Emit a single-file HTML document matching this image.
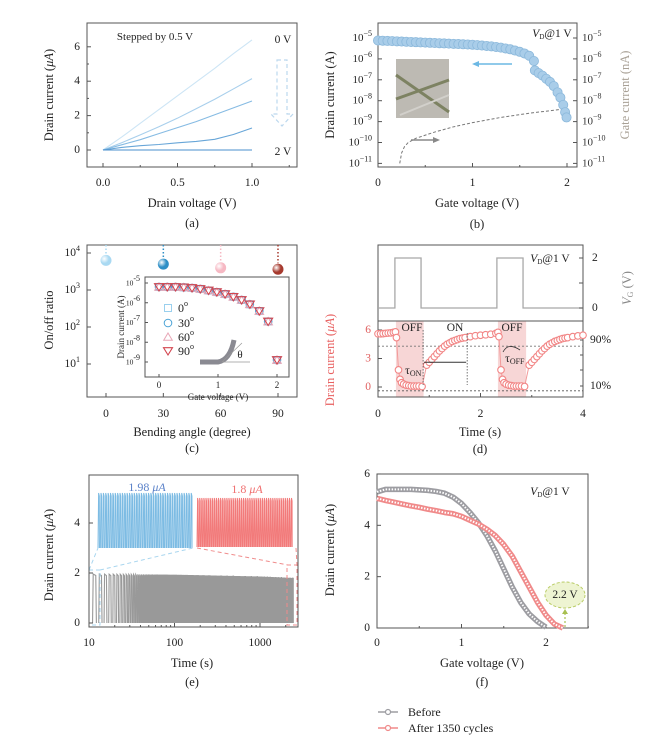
<!DOCTYPE html>
<html><head><meta charset="utf-8"><style>
html,body{margin:0;padding:0;background:#fff;}
svg{display:block;font-family:"Liberation Serif",serif;}
</style></head><body>
<svg id="fig" width="656" height="748" viewBox="0 0 656 748" xmlns="http://www.w3.org/2000/svg"></svg>
<script>
// ---------- DATA ----------
// (a) output curves, Vd samples
const aVd = [0, 0.125, 0.25, 0.375, 0.5, 0.625, 0.75, 0.875, 1.0];
const aGateLabels = ["0 V", "0.5 V", "1 V", "1.5 V", "2 V"];
const aI0 = [0, 0.75, 1.55, 2.35, 3.15, 3.95, 4.75, 5.6, 6.4];
const aI05 = [0, 0.42, 0.88, 1.35, 1.85, 2.4, 2.95, 3.55, 4.15];
const aI1 = [0, 0.3, 0.6, 0.95, 1.3, 1.65, 2.05, 2.45, 2.85];
const aI15 = [0, 0.15, 0.25, 0.32, 0.42, 0.5, 0.62, 0.9, 1.28];
const aI2 = [0, 0, 0, 0, 0, 0, 0, 0, 0];
// (b) transfer curve (log10 of A)
const bVg = [0,0.05,0.1,0.15,0.2,0.25,0.3,0.35,0.4,0.45,0.5,0.55,0.6,0.65,0.7,0.75,0.8,0.85,0.9,0.95,1.0,1.05,1.1,1.15,1.2,1.25,1.3,1.35,1.4,1.45,1.5,1.55,1.6,1.65,1.66,1.7,1.74,1.78,1.82,1.86,1.9,1.93,1.96,1.98,1.995];
const bLogId = [-5.12,-5.13,-5.14,-5.15,-5.16,-5.17,-5.18,-5.19,-5.2,-5.21,-5.22,-5.23,-5.24,-5.25,-5.26,-5.27,-5.28,-5.29,-5.3,-5.31,-5.32,-5.34,-5.36,-5.38,-5.4,-5.43,-5.46,-5.5,-5.54,-5.6,-5.66,-5.74,-5.85,-6.1,-6.55,-6.68,-6.8,-6.95,-7.1,-7.3,-7.6,-7.85,-8.2,-8.55,-8.8];
const bGateVg = [0.23,0.25,0.28,0.32,0.4,0.6,0.8,1.0,1.3,1.6,2.0];
const bLogIg = [-11,-10.5,-10.2,-10.0,-9.8,-9.5,-9.25,-9.05,-8.8,-8.6,-8.38];
const bTicks = [-5,-6,-7,-8,-9,-10,-11];
// (c) on/off ratio vs bending
const cAngles = [0, 30, 60, 90];
const cLogRatio = [3.8, 3.7, 3.6, 3.56];
const cColors = ["#a9d9f2", "#2e8fc6", "#f6b8c3", "#a63a2e"];
const ciVg = [0,0.14,0.28,0.42,0.56,0.7,0.84,0.98,1.12,1.26,1.4,1.54,1.7,1.85,2];
const ciLogId = [-5.2,-5.2,-5.2,-5.22,-5.25,-5.3,-5.38,-5.46,-5.56,-5.7,-5.86,-6.08,-6.42,-6.95,-8.9];
const ciLegend = ["0", "30", "60", "90"];
// (d) transient
const dVT = [0,0.33,0.33,0.84,0.84,2.32,2.32,2.83,2.83,4];
const dVV = [0,0,2,2,0,0,2,2,0,0];
const dT = [0,0.05,0.1,0.15,0.2,0.25,0.3,0.34,0.36,0.4,0.43,0.46,0.5,0.55,0.6,0.65,0.7,0.75,0.8,0.86,0.95,1.0,1.05,1.1,1.15,1.2,1.25,1.3,1.35,1.4,1.45,1.5,1.55,1.6,1.65,1.7,1.8,1.9,2.0,2.1,2.2,2.3,2.34,2.36,2.4,2.43,2.46,2.5,2.55,2.6,2.65,2.7,2.75,2.8,2.86,2.95,3.0,3.05,3.1,3.15,3.2,3.25,3.3,3.35,3.4,3.45,3.5,3.55,3.6,3.65,3.7,3.8,3.9,4.0];
const dI = [5.6,5.6,5.62,5.65,5.68,5.7,5.75,5.8,5.2,1.8,0.8,0.45,0.3,0.2,0.15,0.1,0.1,0.1,0.1,0.05,2.3,2.6,2.9,3.2,3.5,3.8,4.05,4.3,4.5,4.65,4.8,4.9,5.0,5.1,5.15,5.2,5.3,5.4,5.45,5.5,5.55,5.65,5.75,5.3,1.8,0.8,0.45,0.3,0.2,0.15,0.1,0.1,0.1,0.1,0.05,2.3,2.6,2.9,3.2,3.5,3.8,4.05,4.3,4.5,4.65,4.8,4.9,5.0,5.1,5.15,5.2,5.3,5.38,5.45];
const dOffWindows = [[0.35, 0.89], [2.34, 2.89]];
// (e) cycling
const eCycleStart = 11;
const ePeriod = 2;
const eEnd = 2450;
const ePeakT = [10, 100, 1000, 2500];
const ePeakI = [1.96, 1.93, 1.86, 1.8];
const eInsetBlue = [1.98, 40];
const eInsetRed = [1.8, 46];
// (f) transfer before/after
const fVgBefore = [0,0.1,0.2,0.3,0.4,0.5,0.6,0.7,0.8,0.9,1.0,1.1,1.2,1.3,1.4,1.5,1.6,1.7,1.8,1.9,2.0];
const fBefore = [5.3,5.4,5.4,5.4,5.4,5.38,5.36,5.32,5.25,5.1,4.85,4.5,4.1,3.6,3.0,2.3,1.6,1.0,0.55,0.25,0.03];
const fVgAfter = [0,0.1,0.2,0.3,0.4,0.5,0.6,0.7,0.8,0.9,1.0,1.1,1.2,1.3,1.4,1.5,1.6,1.7,1.8,1.9,2.0,2.1,2.2];
const fAfter = [5.05,4.97,4.9,4.83,4.76,4.7,4.63,4.57,4.5,4.45,4.35,4.2,4.05,3.85,3.6,3.25,2.8,2.2,1.6,1.0,0.5,0.15,0.0];

// ---------- HELPERS ----------
const NS = "http://www.w3.org/2000/svg";
const svg = document.getElementById("fig");
function E(tag, attrs, name, parent) {
  const el = document.createElementNS(NS, tag);
  for (const k in attrs) el.setAttribute(k, attrs[k]);
  
  
  (parent || svg).appendChild(el);
  return el;
}
function T(x, y, html, name, o) {
  o = o || {};
  const el = E("text", {x: x, y: y, "font-size": o.fs || 12, fill: o.fill || "#222", "text-anchor": o.anchor || "middle", "dominant-baseline": "central"}, name);
  if (o.rot) el.setAttribute("transform", "rotate(-90 " + x + " " + y + ")");
  if (o.italic) el.setAttribute("font-style", "italic");
  el.innerHTML = html;
  return el;
}
function pts(xs, ys, fx, fy) { return xs.map((v, i) => fx(v).toFixed(2) + "," + fy(ys[i]).toFixed(2)).join(" "); }
function box(x1, y1, x2, y2, name) { E("rect", {x: x1, y: y1, width: x2 - x1, height: y2 - y1, fill: "none", stroke: "#555", "stroke-width": 1}, name); }
function sup(b, e) { return b + '<tspan dy="-5" font-size="8">' + e + '</tspan>'; }
function tickX(x, y, len, name) { E("line", {x1: x, y1: y, x2: x, y2: y - len, stroke: "#555", "stroke-width": 1}, name); }
function tickY(x, y, len, name) { E("line", {x1: x, y1: y, x2: x + len, y2: y, stroke: "#555", "stroke-width": 1}, name); }

// ---------- PANEL A ----------
const xA = v => 103 + v * 149, yA = v => 150 - v * 17.2;
box(87, 23, 297, 167, "panel-a-plot-area");
[0, 2, 4, 6].forEach(v => { tickY(87, yA(v), 4, "a-y-tick"); T(80, yA(v), v, "a-y-tick-label", {anchor: "end", fs: 11.5}); });
[1, 3, 5].forEach(v => tickY(87, yA(v), 2, "a-y-minor-tick"));
[0, 0.5, 1].forEach(v => { tickX(xA(v), 167, 4, "a-x-tick"); T(xA(v), 183, v.toFixed(1), "a-x-tick-label", {fs: 11.5}); });
[0.25, 0.75, 1.25].forEach(v => tickX(xA(v), 167, 2, "a-x-minor-tick"));
const aCurves = [aI0, aI05, aI1, aI15, aI2];
const aCols = ["#cde5f5", "#a8cfec", "#86bbe3", "#68a6d8", "#4a8fcc"];
aCurves.forEach((c, i) => E("polyline", {points: pts(aVd, c, xA, yA), fill: "none", stroke: aCols[i], "stroke-width": 1.1, "stroke-linejoin": "round"}, "a-curve-vg-" + i));
T(155, 37, "Stepped by 0.5 V", "a-step-note", {fs: 11});
T(283, 40, aGateLabels[0], "a-label-0v", {fs: 11.5});
T(283, 152, aGateLabels[4], "a-label-2v", {fs: 11.5});
E("path", {d: "M277,60 H287 V114 H293 L282,126 L271,114 H277 Z", fill: "none", stroke: "#bcd8ee", "stroke-width": 1.2, "stroke-dasharray": "4,3"}, "a-down-arrow");
T(49, 95, "Drain current (<tspan font-style=\"italic\">μA</tspan>)", "a-y-axis-title", {rot: true, fs: 12.5});
T(192, 203, "Drain voltage (V)", "a-x-axis-title", {fs: 12.5});
T(192, 223, "(a)", "a-panel-label", {fs: 12.5});

// ---------- PANEL B ----------
const xB = v => 378 + v * 94.5, yB = l => 38 + (-5 - l) * 20.9;
box(378, 23, 577, 167, "panel-b-plot-area");
bTicks.forEach(l => {
  tickY(378, yB(l), 4, "b-left-tick"); tickY(577, yB(l), -4, "b-right-tick");
  T(372, yB(l), sup("10", "−" + (-l)), "b-left-tick-label", {anchor: "end", fs: 11});
  T(582, yB(l), sup("10", "−" + (-l)), "b-right-tick-label", {anchor: "start", fs: 11, fill: "#333"});
});
[0, 1, 2].forEach(v => { tickX(xB(v), 167, 4, "b-x-tick"); T(xB(v), 183, v, "b-x-tick-label", {fs: 11.5}); });
[0.5, 1.5].forEach(v => tickX(xB(v), 167, 2, "b-x-minor-tick"));
const bImg = E("g", {}, "b-inset-photo");
E("rect", {x: 396, y: 59, width: 53, height: 59, fill: "#bdbab3"}, "b-photo-bg", bImg);
E("line", {x1: 396, y1: 75, x2: 449, y2: 112, stroke: "#7d8262", "stroke-width": 3}, "b-fiber-1", bImg);
E("line", {x1: 396, y1: 99, x2: 449, y2: 80, stroke: "#7d8262", "stroke-width": 3}, "b-fiber-2", bImg);
E("line", {x1: 400, y1: 115, x2: 449, y2: 95, stroke: "#d2d0cb", "stroke-width": 2}, "b-fiber-shadow", bImg);
E("polyline", {points: pts(bGateVg, bLogIg, xB, yB), fill: "none", stroke: "#777", "stroke-width": 1, "stroke-dasharray": "3,2"}, "b-gate-current-line");
E("polyline", {points: pts(bVg, bLogId, xB, yB), fill: "none", stroke: "#555", "stroke-width": 0.8}, "b-drain-line");
bVg.forEach((v, i) => E("circle", {cx: xB(v), cy: yB(bLogId[i]), r: 4.6, fill: "#a9cde9", stroke: "#8bb8db", "stroke-width": 0.8}, "b-drain-point"));
E("line", {x1: 512, y1: 64, x2: 474, y2: 64, stroke: "#6cb8e4", "stroke-width": 1.5}, "b-blue-arrow");
E("path", {d: "M472,64 L479,61 L479,67 Z", fill: "#6cb8e4"}, "b-blue-arrowhead");
E("line", {x1: 411, y1: 140, x2: 437, y2: 140, stroke: "#888", "stroke-width": 1.5}, "b-gray-arrow");
E("path", {d: "M440,140 L433,137 L433,143 Z", fill: "#888"}, "b-gray-arrowhead");
T(552, 34, '<tspan font-style="italic">V</tspan><tspan font-size="7" dy="3">D</tspan><tspan dy="-3">@1 V</tspan>', "b-vd-note", {fs: 11.5});
T(330, 95, "Drain current (A)", "b-y-axis-title", {rot: true, fs: 12.5});
T(625, 95, "Gate current (nA)", "b-right-axis-title", {rot: true, fs: 12.5, fill: "#a8a095"});
T(477, 203, "Gate voltage (V)", "b-x-axis-title", {fs: 12.5});
T(477, 224, "(b)", "b-panel-label", {fs: 12.5});

// ---------- PANEL C ----------
const xC = a => 106 + a * 1.911, yC = l => 253 + (4 - l) * 37;
box(87, 245, 297, 397, "panel-c-plot-area");
[4, 3, 2, 1].forEach(l => { tickY(87, yC(l), 4, "c-y-tick"); T(80, yC(l), sup("10", l), "c-y-tick-label", {anchor: "end", fs: 11.5}); });
[0, 30, 60, 90].forEach(a => { tickX(xC(a), 397, 4, "c-x-tick"); T(xC(a), 414, a, "c-x-tick-label", {fs: 11.5}); });
const defs = E("defs", {}, "defs");
cAngles.forEach((a, i) => {
  const g = E("radialGradient", {id: "ball" + i, cx: "0.35", cy: "0.35", r: "0.7"}, "ball-gradient", defs);
  E("stop", {offset: "0", "stop-color": "#ffffff"}, "grad-stop", g);
  E("stop", {offset: "0.6", "stop-color": cColors[i]}, "grad-stop", g);
  E("stop", {offset: "1", "stop-color": cColors[i]}, "grad-stop", g);
  E("line", {x1: xC(a), y1: 245, x2: xC(a), y2: yC(cLogRatio[i]) - 6, stroke: cColors[i], "stroke-width": 1.5, "stroke-dasharray": "1.5,2"}, "c-drop-line");
  E("circle", {cx: xC(a), cy: yC(cLogRatio[i]), r: 5.5, fill: "url(#ball" + i + ")"}, "c-ratio-ball-" + a);
});
const xCi = v => 159 + v * 59, yCi = l => 283 + (-5 - l) * 19.75;
E("rect", {x: 145, y: 277, width: 144, height: 100, fill: "#fff", stroke: "#555", "stroke-width": 1}, "c-inset-plot-area");
[-5, -6, -7, -8, -9].forEach(l => { tickY(145, yCi(l), 3, "c-inset-y-tick"); T(140, yCi(l), sup("10", "-" + (-l)), "c-inset-y-tick-label", {anchor: "end", fs: 7.5}); });
[0, 1, 2].forEach(v => { tickX(xCi(v), 377, 3, "c-inset-x-tick"); T(xCi(v), 385, v, "c-inset-x-tick-label", {fs: 9}); });
T(121, 327, "Drain current (A)", "c-inset-y-title", {rot: true, fs: 9});
T(218, 397, "Gate voltage (V)", "c-inset-x-title", {fs: 9});
const ciStyles = [["#9ad0ee", "sq"], ["#4ca3d6", "ci"], ["#e8a6b6", "tu"], ["#d3454f", "td"]];
function marker(kind, x, y, col, name) {
  if (kind === "sq") E("rect", {x: x - 3.5, y: y - 3.5, width: 7, height: 7, fill: "none", stroke: col, "stroke-width": 1}, name);
  else if (kind === "ci") E("circle", {cx: x, cy: y, r: 3.8, fill: "none", stroke: col, "stroke-width": 1}, name);
  else if (kind === "tu") E("path", {d: `M${x},${y - 4} L${x + 4.3},${y + 3.3} L${x - 4.3},${y + 3.3} Z`, fill: "none", stroke: col, "stroke-width": 1}, name);
  else E("path", {d: `M${x},${y + 4} L${x + 4.5},${y - 3.3} L${x - 4.5},${y - 3.3} Z`, fill: "none", stroke: col, "stroke-width": 1.1}, name);
}
ciStyles.forEach((s, k) => ciVg.forEach((v, i) => marker(s[1], xCi(v), yCi(ciLogId[i]), s[0], "c-inset-point")));
ciLegend.forEach((lab, k) => {
  const y = [308, 323, 337, 351][k];
  marker(ciStyles[k][1], 168, y, ciStyles[k][0], "c-legend-marker");
  T(178, y, lab + '<tspan dy="-5" font-size="8">o</tspan>', "c-legend-label-" + lab, {anchor: "start", fs: 12});
});
E("path", {d: "M200,362 L218,362 Q230,360 234,340", fill: "none", stroke: "#8a8a92", "stroke-width": 5}, "c-bend-icon");
E("path", {d: "M222,362 L250,362 M222,362 L242,343", fill: "none", stroke: "#999", "stroke-width": 0.7}, "c-angle-lines");
T(240, 355, "θ", "c-theta-label", {fs: 11});
T(49, 320, "On/off ratio", "c-y-axis-title", {rot: true, fs: 12.5});
T(192, 432, "Bending angle (degree)", "c-x-axis-title", {fs: 12.5});
T(192, 448, "(c)", "c-panel-label", {fs: 12.5});

// ---------- PANEL D ----------
const xD = t => 378 + t * 51.25, yV = v => 308 - v * 25, yI = i => 387 - i * 9.5;
dOffWindows.forEach(w => E("rect", {x: xD(w[0]), y: 321, width: xD(w[1]) - xD(w[0]), height: 76, fill: "#f7d6d6"}, "d-off-shade"));
box(378, 245, 583, 321, "d-gate-plot-area");
box(378, 321, 583, 397, "d-current-plot-area");
E("polyline", {points: pts(dVT, dVV, xD, yV), fill: "none", stroke: "#a8a8a8", "stroke-width": 1.3}, "d-gate-pulse-line");
[0, 1, 2].forEach(v => { tickY(583, yV(v), -4, "d-vg-tick"); if (v !== 1) T(592, yV(v), v, "d-vg-tick-label", {anchor: "start", fs: 11.5}); });
[0, 3, 6].forEach(v => { tickY(378, yI(v), 4, "d-i-tick"); T(371, yI(v), v, "d-i-tick-label", {anchor: "end", fs: 11.5, fill: "#e06060"}); });
[0, 2, 4].forEach(v => { tickX(xD(v), 397, 4, "d-x-tick"); T(xD(v), 414, v, "d-x-tick-label", {fs: 11.5}); });
[1, 3].forEach(v => tickX(xD(v), 397, 2, "d-x-minor-tick"));
E("line", {x1: 378, y1: yI(4.3), x2: 583, y2: yI(4.3), stroke: "#777", "stroke-width": 0.9, "stroke-dasharray": "2,2"}, "d-90-percent-line");
E("line", {x1: 378, y1: yI(-0.4), x2: 583, y2: yI(-0.4), stroke: "#555", "stroke-width": 0.9, "stroke-dasharray": "2,2"}, "d-10-percent-line");
[340, 355, 370, 386].forEach(y => tickY(583, y, -3, "d-right-tick"));
T(590, 340, "90%", "d-90-label", {anchor: "start", fs: 11.5});
T(590, 386, "10%", "d-10-label", {anchor: "start", fs: 11.5});
E("polyline", {points: pts(dT, dI, xD, yI), fill: "none", stroke: "#f29a9a", "stroke-width": 1}, "d-current-line");
dT.forEach((t, i) => E("circle", {cx: xD(t), cy: yI(dI[i]), r: 3.3, fill: "#fff", stroke: "#f28686", "stroke-width": 1.1}, "d-current-point"));
E("line", {x1: xD(0.88), y1: 330, x2: xD(0.88), y2: 385, stroke: "#555", "stroke-width": 0.8, "stroke-dasharray": "1.5,1.5"}, "d-ton-start");
E("line", {x1: xD(1.74), y1: 333, x2: xD(1.74), y2: 385, stroke: "#555", "stroke-width": 0.8, "stroke-dasharray": "1.5,1.5"}, "d-ton-end");
E("line", {x1: xD(0.9), y1: yI(2.6), x2: xD(1.72), y2: yI(2.6), stroke: "#333", "stroke-width": 1}, "d-ton-arrow");
T(412, 328, "OFF", "d-off-label-1", {fs: 11.5});
T(455, 328, "ON", "d-on-label", {fs: 11.5});
T(512, 328, "OFF", "d-off-label-2", {fs: 11.5});
T(405, 370, 'τ<tspan font-size="8" dy="3">ON</tspan>', "d-tau-on-label", {anchor: "start", fs: 12});
T(505, 358, 'τ<tspan font-size="8" dy="3">OFF</tspan>', "d-tau-off-label", {anchor: "start", fs: 12});
E("path", {d: "M503,352 Q508,342 520,350", fill: "none", stroke: "#333", "stroke-width": 0.8}, "d-tau-off-arrow");
T(550, 259, '<tspan font-style="italic">V</tspan><tspan font-size="7" dy="3">D</tspan><tspan dy="-3">@1 V</tspan>', "d-vd-note", {fs: 11.5});
T(330, 360, "Drain current (<tspan font-style=\"italic\">μA</tspan>)", "d-y-axis-title", {rot: true, fs: 12.5, fill: "#e86060"});
T(627, 288, '<tspan font-style="italic">V</tspan><tspan font-size="8" dy="3">G</tspan><tspan dy="-3"> (V)</tspan>', "d-vg-axis-title", {rot: true, fs: 12.5, fill: "#888"});
T(480, 432, "Time (s)", "d-x-axis-title", {fs: 12.5});
T(480, 449, "(d)", "d-panel-label", {fs: 12.5});

// ---------- PANEL E ----------
const xE = t => 89 + (Math.log10(t) - 1) * 85.5, yE = i => 623 - i * 25;
function peakAt(t) { let k = 0; while (k < ePeakT.length - 2 && t > ePeakT[k + 1]) k++; const f = (Math.log10(t) - Math.log10(ePeakT[k])) / (Math.log10(ePeakT[k + 1]) - Math.log10(ePeakT[k])); return ePeakI[k] + (ePeakI[k + 1] - ePeakI[k]) * f; }
let ed = "";
for (let s = eCycleStart; s < eEnd; s += ePeriod) {
  const p = peakAt(s);
  ed += `M${xE(s).toFixed(2)},${yE(0)} L${xE(s + 0.2).toFixed(2)},${yE(p).toFixed(2)} L${xE(s + 1).toFixed(2)},${yE(p * 0.97).toFixed(2)} L${xE(s + 1.2).toFixed(2)},${yE(0)} `;
}
E("path", {d: ed, fill: "none", stroke: "#999", "stroke-width": 1.1}, "e-cycling-trace");
function insetBand(x1, x2, yTop, yBot, n, col, name) {
  let d = "";
  for (let k = 0; k < n; k++) { const x = x1 + (x2 - x1) * k / n; d += `M${x.toFixed(2)},${yBot} L${(x + 0.6).toFixed(2)},${yTop} L${(x + (x2 - x1) / n * 0.55).toFixed(2)},${yTop + 3} L${(x + (x2 - x1) / n * 0.6).toFixed(2)},${yBot} `; }
  E("path", {d: d, fill: "none", stroke: col, "stroke-width": 1}, name);
}
insetBand(98, 193, 493, 548, eInsetBlue[1], "#7cbbe3", "e-inset-before");
insetBand(197, 293, 498, 547, eInsetRed[1], "#f27a7a", "e-inset-after");
E("path", {d: "M89,570 L98,548 M100,570 L193,548", fill: "none", stroke: "#a9d6ef", "stroke-width": 1, "stroke-dasharray": "4,3"}, "e-zoom-lines-blue");
E("rect", {x: 89, y: 570, width: 11, height: 55, fill: "none", stroke: "#a9d6ef", "stroke-width": 1, "stroke-dasharray": "4,3"}, "e-zoom-box-blue");
E("path", {d: "M197,548 L288,565 M296,548 L297,565", fill: "none", stroke: "#f08c8c", "stroke-width": 1, "stroke-dasharray": "4,3"}, "e-zoom-lines-red");
E("rect", {x: 287, y: 565, width: 10, height: 60, fill: "none", stroke: "#f08c8c", "stroke-width": 1, "stroke-dasharray": "4,3"}, "e-zoom-box-red");
T(147, 487, eInsetBlue[0] + ' <tspan font-style="italic">μA</tspan>', "e-label-before", {fs: 12, fill: "#5b82c9"});
T(247, 489, eInsetRed[0] + ' <tspan font-style="italic">μA</tspan>', "e-label-after", {fs: 12, fill: "#f07070"});
box(89, 475, 298, 627, "panel-e-plot-area");
[0, 2, 4].forEach(v => { tickY(89, yE(v), 4, "e-y-tick"); T(80, yE(v), v, "e-y-tick-label", {anchor: "end", fs: 11.5}); });
[10, 100, 1000].forEach(v => { tickX(xE(v), 627, 4, "e-x-tick"); T(xE(v), 643, v, "e-x-tick-label", {fs: 11.5}); });
[20,30,40,50,60,70,80,90,200,300,400,500,600,700,800,900,2000].forEach(v => tickX(xE(v), 627, 2, "e-x-minor-tick"));
T(49, 555, "Drain current (<tspan font-style=\"italic\">μA</tspan>)", "e-y-axis-title", {rot: true, fs: 12.5});
T(192, 663, "Time (s)", "e-x-axis-title", {fs: 12.5});
T(192, 682, "(e)", "e-panel-label", {fs: 12.5});

// ---------- PANEL F ----------
const xF = v => 377 + v * 84.5, yF = i => 628 - i * 25.67;
box(377, 474, 588, 628, "panel-f-plot-area");
[0, 2, 4, 6].forEach(v => { tickY(377, yF(v), 4, "f-y-tick"); T(370, yF(v), v, "f-y-tick-label", {anchor: "end", fs: 11.5}); });
[0, 1, 2].forEach(v => { tickX(xF(v), 628, 4, "f-x-tick"); T(xF(v), 643, v, "f-x-tick-label", {fs: 11.5}); });
[0.5, 1.5, 2.5].forEach(v => tickX(xF(v), 628, 2, "f-x-minor-tick"));
function chain(xs, ys, col, name) {
  E("polyline", {points: pts(xs, ys, xF, yF), fill: "none", stroke: col, "stroke-width": 5.5, "stroke-linejoin": "round"}, name);
  E("polyline", {points: pts(xs, ys, xF, yF), fill: "none", stroke: "#fff", "stroke-width": 2, "stroke-dasharray": "1.5,1.5"}, name + "-inner");
}
chain(fVgBefore, fBefore, "#9d9da2", "f-before-series");
chain(fVgAfter, fAfter, "#f08a8a", "f-after-series");
E("ellipse", {cx: 565, cy: 595, rx: 20, ry: 13, fill: "#eef4d2", stroke: "#b9cc66", "stroke-width": 1, "stroke-dasharray": "3,2"}, "f-threshold-bubble");
T(565, 595, "2.2 V", "f-threshold-label", {fs: 11.5});
E("line", {x1: 565, y1: 627, x2: 565, y2: 612, stroke: "#a8c050", "stroke-width": 1.2, "stroke-dasharray": "2,2"}, "f-threshold-arrow");
E("path", {d: "M565,609 L562,614 L568,614 Z", fill: "#a8c050"}, "f-threshold-arrowhead");
T(550, 492, '<tspan font-style="italic">V</tspan><tspan font-size="7" dy="3">D</tspan><tspan dy="-3">@1 V</tspan>', "f-vd-note", {fs: 11.5});
T(330, 550, "Drain current (<tspan font-style=\"italic\">μA</tspan>)", "f-y-axis-title", {rot: true, fs: 12.5});
T(482, 663, "Gate voltage (V)", "f-x-axis-title", {fs: 12.5});
T(482, 682, "(f)", "f-panel-label", {fs: 12.5});
E("line", {x1: 378, y1: 712, x2: 398, y2: 712, stroke: "#9d9da2", "stroke-width": 1.5}, "legend-before-line");
E("circle", {cx: 388, cy: 712, r: 2.5, fill: "#fff", stroke: "#9d9da2", "stroke-width": 1.2}, "legend-before-marker");
T(408, 712, "Before", "legend-before-label", {anchor: "start", fs: 12});
E("line", {x1: 378, y1: 728, x2: 398, y2: 728, stroke: "#f08a8a", "stroke-width": 1.5}, "legend-after-line");
E("circle", {cx: 388, cy: 728, r: 2.5, fill: "#fff", stroke: "#f08a8a", "stroke-width": 1.2}, "legend-after-marker");
T(408, 728, "After 1350 cycles", "legend-after-label", {anchor: "start", fs: 12});
</script>
</body></html>
